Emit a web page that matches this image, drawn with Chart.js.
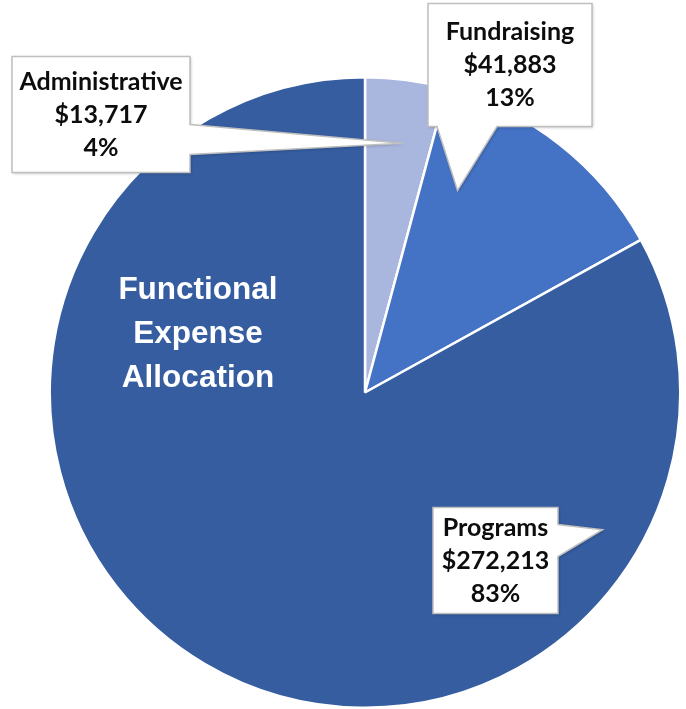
<!DOCTYPE html>
<html>
<head>
<meta charset="utf-8">
<script src="https://cdn.jsdelivr.net/npm/chart.js@4.4.1/dist/chart.umd.min.js"></script>
<style>
  html, body { margin: 0; padding: 0; background: #ffffff; }
  #wrap { width: 686px; height: 709px; position: relative; }
</style>
</head>
<body>
<div id="wrap"><canvas id="c" width="686" height="709"></canvas></div>
<script>
// ---- data ----
const categories = ["Administrative", "Fundraising", "Programs"];
const amounts = [13717, 41883, 272213];
const amountLabels = ["$13,717", "$41,883", "$272,213"];
const percentLabels = ["4%", "13%", "83%"];
const sliceColors = ["#A9B6DD", "#4472C4", "#355DA0"];
const centerTitle = ["Functional", "Expense", "Allocation"];

// callout geometry, relative to pie centre (px) ; tip given as angle (deg from 12 o'clock) & radius fraction
const callouts = [
  { box: [-353, -336, 178, 116], side: "right", base: [-268, -238], tipAngle: 8.6, tipR: 0.80 },
  { box: [63, -389, 164, 123], side: "bottom", base: [72, 132], tipAngle: 24.6, tipR: 0.705 },
  { box: [68, 115, 125, 106], side: "right", base: [132, 164], tipAngle: 120, tipR: 0.87 }
];

const calloutPlugin = {
  id: "callouts",
  afterDatasetsDraw(chart) {
    const ctx = chart.ctx;
    const meta = chart.getDatasetMeta(0);
    const arc0 = meta.data[0];
    const cx = arc0.x, cy = arc0.y, R = arc0.outerRadius;

    // centre title
    ctx.save();
    ctx.fillStyle = "#ffffff";
    ctx.font = "bold 31.5px 'Liberation Sans', Arial, sans-serif";
    ctx.textAlign = "center";
    ctx.textBaseline = "middle";
    centerTitle.forEach((t, i) => ctx.fillText(t, cx - 167, cy - 102 + i * 44));
    ctx.restore();

    callouts.forEach((c, i) => {
      const [bx, by, bw, bh] = c.box;
      const x0 = cx + bx, y0 = cy + by, x1 = x0 + bw, y1 = y0 + bh;
      const a = c.tipAngle * Math.PI / 180;
      const tx = cx + Math.sin(a) * R * c.tipR;
      const ty = cy - Math.cos(a) * R * c.tipR;
      ctx.save();
      ctx.beginPath();
      ctx.moveTo(x0, y0);
      ctx.lineTo(x1, y0);
      if (c.side === "right") {
        ctx.lineTo(x1, cy + c.base[0]);
        ctx.lineTo(tx, ty);
        ctx.lineTo(x1, cy + c.base[1]);
        ctx.lineTo(x1, y1);
        ctx.lineTo(x0, y1);
      } else {
        ctx.lineTo(x1, y1);
        ctx.lineTo(cx + c.base[1], y1);
        ctx.lineTo(tx, ty);
        ctx.lineTo(cx + c.base[0], y1);
        ctx.lineTo(x0, y1);
      }
      ctx.closePath();
      ctx.shadowColor = "rgba(0,0,0,0.25)";
      ctx.shadowBlur = 3;
      ctx.shadowOffsetX = 1;
      ctx.shadowOffsetY = 1;
      ctx.fillStyle = "#ffffff";
      ctx.fill();
      ctx.shadowColor = "transparent";
      ctx.lineWidth = 1.5;
      ctx.strokeStyle = "#BFBFBF";
      ctx.stroke();

      ctx.fillStyle = "#0d0d0d";
      ctx.font = "bold 25px Lato, 'Open Sans', sans-serif";
      ctx.textAlign = "center";
      ctx.textBaseline = "middle";
      const mx = (x0 + x1) / 2;
      const lines = [categories[i], amountLabels[i], percentLabels[i]];
      const top = (y0 + y1) / 2 - 33;
      lines.forEach((t, k) => ctx.fillText(t, mx, top + k * 33));
      ctx.restore();
    });
  }
};

new Chart(document.getElementById("c"), {
  type: "pie",
  data: {
    labels: categories,
    datasets: [{
      data: amounts,
      backgroundColor: sliceColors,
      borderColor: "#ffffff",
      borderWidth: 2.5
    }]
  },
  options: {
    responsive: false,
    animation: false,
    layout: { padding: { left: 46, right: 2, top: 76, bottom: 0 } },
    plugins: {
      legend: { display: false },
      tooltip: { enabled: false },
      title: { display: false }
    }
  },
  plugins: [calloutPlugin]
});
</script>
</body>
</html>
